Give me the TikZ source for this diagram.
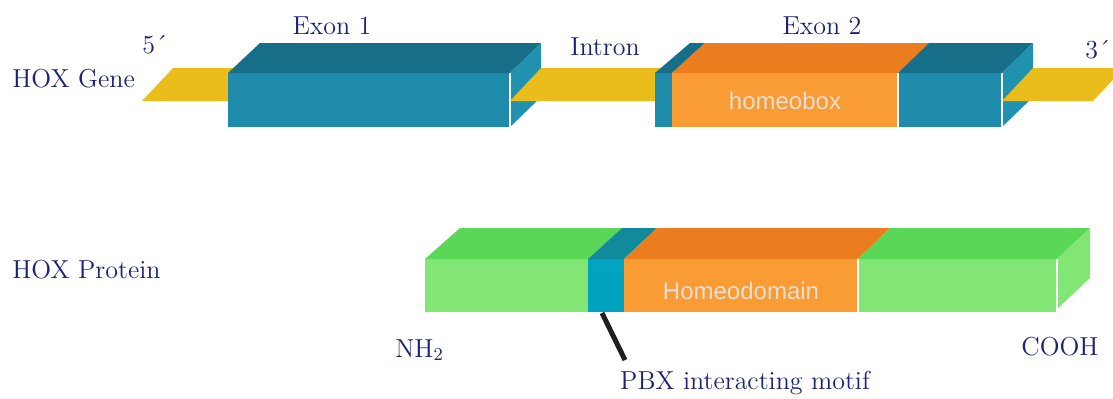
\documentclass[tikz,border=0pt]{standalone}
\usepackage{fontspec}
\newfontfamily\domainsans{Liberation Sans}
\definecolor{labelnavy}{RGB}{26,34,116}
\definecolor{strandyellow}{RGB}{234,188,28}
\definecolor{exonfront}{RGB}{30,139,170}
\definecolor{exontop}{RGB}{22,110,136}
\definecolor{exonside}{RGB}{32,146,176}
\definecolor{boxfront}{RGB}{250,156,52}
\definecolor{boxtop}{RGB}{236,125,30}
\definecolor{protfront}{RGB}{130,230,116}
\definecolor{prottop}{RGB}{90,215,86}
\definecolor{pbxfront}{RGB}{0,164,190}
\definecolor{pbxtop}{RGB}{18,138,158}
\definecolor{domaintext}{RGB}{232,222,212}
\tikzset{
    label text/.style = {
        text = labelnavy,
        font = \fontsize{13}{15}\selectfont,
        inner sep = 0pt,
        },
    domain text/.style = {
        text = domaintext,
        font = \domainsans\fontsize{12}{14}\selectfont,
        inner sep = 0pt,
        },
    strand/.style = {
        fill = strandyellow,
        },
    white edge/.style = {
        draw = white,
        line width = 0.6pt,
        },
    motif line/.style = {
        draw = black!88,
        line width = 2.5pt,
        },
}
\begin{document}
\begin{tikzpicture}[x=0.5pt, y=-0.5pt]
    \clip (0,0) rectangle (1113,398);
    \fill[white] (0,0) rectangle (1113,398);

    % HOX gene
    \fill[strand] (142,101) -- (173,68) -- (300,68) -- (269,101) -- cycle;
    \fill[exonfront] (228,73) rectangle (510,127);
    \fill[exontop] (228,73) -- (260,43) -- (541,43) -- (510,73) -- cycle;
    \fill[exonside] (510,73) -- (541,43) -- (541,97) -- (510,127) -- cycle;
    \draw[white edge] (510,73) -- (510,127);
    \fill[strand] (510,101) -- (541,68) -- (700,68) -- (669,101) -- cycle;

    \fill[exonfront] (655,73) rectangle (672,127);
    \fill[boxfront] (672,73) rectangle (898,127);
    \fill[exonfront] (898,73) rectangle (1002,127);
    \fill[exontop] (655,73) -- (690,43) -- (705,43) -- (672,73) -- cycle;
    \fill[boxtop] (672,73) -- (705,43) -- (929,43) -- (898,73) -- cycle;
    \fill[exontop] (898,73) -- (929,43) -- (1033,43) -- (1002,73) -- cycle;
    \fill[exonside] (1002,73) -- (1033,43) -- (1033,97) -- (1002,127) -- cycle;
    \draw[white edge] (898,73) -- (898,127);
    \draw[white edge] (1002,73) -- (1002,127);
    \fill[strand] (1002,101) -- (1033,68) -- (1124,68) -- (1093,101) -- cycle;

    \node[domain text] (homeobox) at (785,101) {homeobox};

    \node[label text] (five) at (155,45) {5´};
    \node[label text] (exon1) at (332,26) {Exon 1};
    \node[label text] (intron) at (605,47) {Intron};
    \node[label text] (exon2) at (822,26) {Exon 2};
    \node[label text] (three) at (1098,50) {3´};
    \node[label text, anchor=west] (gene) at (12,79) {HOX Gene};

    % HOX protein
    \fill[protfront] (425,259) rectangle (588,312);
    \fill[pbxfront] (588,259) rectangle (624,312);
    \fill[boxfront] (624,259) rectangle (858,312);
    \fill[protfront] (858,259) rectangle (1057,312);
    \fill[prottop] (425,259) -- (460,228) -- (622,228) -- (588,259) -- cycle;
    \fill[pbxtop] (588,259) -- (622,228) -- (657,228) -- (624,259) -- cycle;
    \fill[boxtop] (624,259) -- (657,228) -- (890,228) -- (858,259) -- cycle;
    \fill[prottop] (858,259) -- (890,228) -- (1090,228) -- (1057,259) -- cycle;
    \fill[protfront] (1057,259) -- (1090,228) -- (1090,278) -- (1057,309) -- cycle;
    \draw[white edge] (858,259) -- (858,312);
    \draw[white edge] (1057,259) -- (1057,312);

    \node[domain text] (homeodomain) at (741,291) {Homeodomain};

    \node[label text, anchor=west] (protein) at (12,270) {HOX Protein};
    \node[label text, anchor=west] (nh) at (395,350) {NH$_2$};
    \node[label text] (cooh) at (1060,347) {COOH};
    \node[label text] (pbx) at (745,383) {PBX interacting motif};

    \coordinate (pbx foot) at (602,313);
    \coordinate (pbx tip) at (625,360);
    \draw[motif line] (pbx foot) -- (pbx tip);
\end{tikzpicture}
\end{document}
